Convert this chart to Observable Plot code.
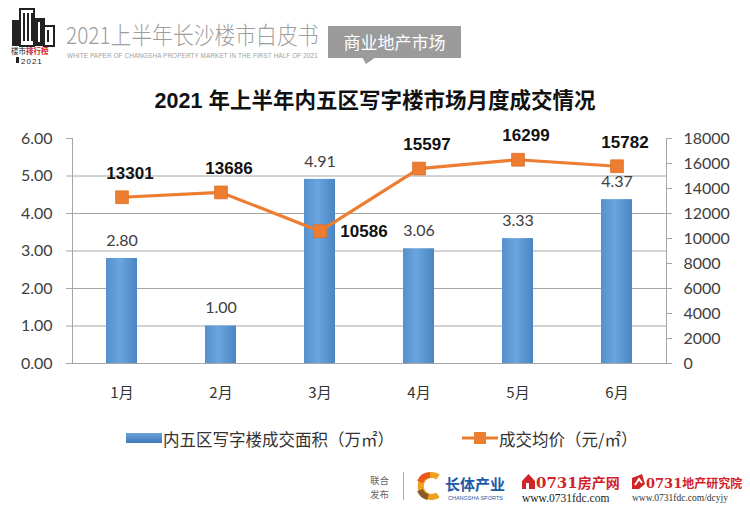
<!DOCTYPE html>
<html>
<head>
<meta charset="utf-8">
<script src="https://cdn.jsdelivr.net/npm/d3@7"></script>
<script src="https://cdn.jsdelivr.net/npm/@observablehq/plot@0.6"></script>
<style>
  html, body { margin: 0; padding: 0; background: #fff; }
  #page { position: relative; width: 750px; height: 512px; overflow: hidden; background: #fff; font-family: "Noto Sans CJK SC", "Noto Sans", sans-serif; }
  .abs { position: absolute; white-space: nowrap; }
  #chart { position: absolute; left: 0; top: 110px; }
</style>
</head>
<body>
<div id="page">
  <!-- header logo -->
  <svg class="abs" style="left:8px;top:6px" width="54" height="58" viewBox="0 0 54 58">
    <rect x="4" y="14" width="9" height="26" fill="#222"/>
    <rect x="12" y="3" width="14" height="37" fill="#fff" stroke="#222" stroke-width="2"/>
    <rect x="15" y="7" width="2" height="28" fill="#222"/>
    <rect x="19" y="7" width="2" height="28" fill="#222"/>
    <rect x="23" y="7" width="2" height="28" fill="#222"/>
    <rect x="27" y="12" width="10" height="28" fill="#222"/>
    <rect x="30" y="16" width="2" height="20" fill="#fff"/>
    <rect x="36" y="20" width="10" height="20" fill="#fff" stroke="#222" stroke-width="2"/>
    <rect x="39" y="24" width="2" height="12" fill="#222"/>
    <text x="3" y="48" font-size="7.5" fill="#222" font-family="Noto Sans CJK SC">楼市<tspan fill="#d0202a" font-weight="bold">排行榜</tspan></text>
    <rect x="8" y="51" width="3" height="6" fill="#222"/>
    <text x="13" y="57.5" font-size="8" fill="#222" font-family="Liberation Sans" letter-spacing="1">2021</text>
  </svg>
  <div class="abs" style="left:66px;top:17px;font-size:23.5px;color:#9d9d9d;font-weight:300;transform:scaleX(0.885);transform-origin:0 0;">2021上半年长沙楼市白皮书</div>
  <div class="abs" style="left:67px;top:52px;font-size:6.4px;color:#a0a0a0;font-family:'Liberation Sans';letter-spacing:0.1px;">WHITE PAPER OF CHANGSHA PROPERTY MARKET IN THE FIRST HALF OF 2021</div>
  <div class="abs" style="left:328px;top:26px;width:133px;height:32px;background:#9b9b9b;color:#fff;font-size:17px;line-height:32px;text-align:center;">商业地产市场</div>
  <svg class="abs" style="left:362px;top:57px" width="16" height="8"><path d="M0,0 L14,0 L4,7 Z" fill="#9b9b9b"/></svg>

  <!-- chart title -->
  <div class="abs" style="left:0;top:83px;width:750px;text-align:center;font-size:21.5px;font-weight:bold;color:#111;">
    <span style="font-family:'Liberation Sans';">2021 </span>年上半年内五区写字楼市场月度成交情况</div>

  <div id="chart"></div>

  <!-- legend -->
  <svg class="abs" style="left:126px;top:432px" width="36" height="12">
    <defs><linearGradient id="legGrad" x1="0" y1="0" x2="0" y2="1"><stop offset="0" stop-color="#6aa3dc"/><stop offset="1" stop-color="#3f78b8"/></linearGradient></defs>
    <rect x="0" y="1" width="36" height="10" fill="url(#legGrad)"/>
  </svg>
  <div class="abs" style="left:163px;top:427px;font-size:16.5px;color:#333;">内五区写字楼成交面积（万㎡）</div>
  <svg class="abs" style="left:462px;top:430px" width="36" height="16">
    <line x1="0" y1="8" x2="36" y2="8" stroke="#ed7d31" stroke-width="3"/>
    <rect x="12" y="2" width="12" height="12" fill="#ed7d31"/>
  </svg>
  <div class="abs" style="left:499px;top:427px;font-size:16.5px;color:#333;">成交均价（元/㎡）</div>

  <!-- footer -->
  <div class="abs" style="left:370px;top:473px;font-size:9.5px;color:#666;line-height:14px;">联合<br>发布</div>
  <div class="abs" style="left:403px;top:472px;width:1px;height:28px;background:#aaa;"></div>
  <svg class="abs" style="left:416px;top:472px" width="28" height="28" viewBox="0 0 28 28">
    <path d="M22,5 A11,11 0 1 0 22,23" fill="none" stroke="#f0a020" stroke-width="6"/>
    <path d="M14,3 A11,11 0 0 0 4,10" fill="none" stroke="#e85a1c" stroke-width="6"/>
    <path d="M4,18 A11,11 0 0 0 12,25" fill="none" stroke="#8a5a2a" stroke-width="6"/>
  </svg>
  <div class="abs" style="left:445px;top:473px;font-size:15px;font-weight:bold;color:#1b5aa6;">长体产业</div>
  <div class="abs" style="left:448px;top:495px;font-size:5.5px;color:#1b5aa6;font-family:'Liberation Sans';">CHANGSHA SPORTS</div>
  <svg class="abs" style="left:521px;top:473px" width="15" height="17"><path d="M1,16 L1,8 L7.5,1 L14,8 L14,16 Z" fill="#d2232a"/><rect x="5" y="10" width="3" height="6" fill="#fff"/></svg>
  <div class="abs" style="left:536px;top:472px;font-size:15px;font-weight:bold;color:#d2232a;font-family:'DejaVu Serif',serif;">0731<span style="font-family:'Noto Sans CJK SC';font-size:14px;">房产网</span></div>
  <div class="abs" style="left:522px;top:492px;font-size:11.5px;color:#222;font-family:'Liberation Serif',serif;">www.0731fdc.com</div>
  <svg class="abs" style="left:631px;top:473px" width="15" height="17"><path d="M1,16 L1,5 L11,1 L14,11 L8,16 Z" fill="#d2232a"/><path d="M4,12 L8,6 L11,10" stroke="#fff" stroke-width="2" fill="none"/></svg>
  <div class="abs" style="left:646px;top:474px;font-size:13px;font-weight:bold;color:#d2232a;font-family:'DejaVu Serif',serif;">0731<span style="font-family:'Noto Sans CJK SC';font-size:12px;">地产研究院</span></div>
  <div class="abs" style="left:632px;top:493px;font-size:9.5px;color:#333;font-family:'Liberation Serif',serif;">www.0731fdc.com/dcyjy</div>
</div>

<script>
// ---- data ----
const months = ["1月", "2月", "3月", "4月", "5月", "6月"];
const area = [2.80, 1.00, 4.91, 3.06, 3.33, 4.37];           // 万㎡ (left axis)
const price = [13301, 13686, 10586, 15597, 16299, 15782];   // 元/㎡ (right axis)
const leftTicks = [0, 1, 2, 3, 4, 5, 6];
const gridTicks = [1, 2, 3, 4, 5];
const rightTicks = [0, 2000, 4000, 6000, 8000, 10000, 12000, 14000, 16000, 18000];
const rightMax = 18000, leftMax = 6;

const ratio = rightMax / leftMax;
const rows = months.map((m, i) => ({month: m, area: area[i], price: price[i]}));
const minPrice = d3.min(price);

const axisColor = "#a6a6a6";
const plot = Plot.plot({
  width: 750,
  height: 300,
  marginLeft: 72,
  marginRight: 84,
  marginTop: 28,
  marginBottom: 47,
  style: {fontFamily: "Lato, 'Open Sans', sans-serif", fontSize: "16px", color: "#404040", background: "transparent", overflow: "visible"},
  x: {type: "band", domain: months, padding: 0, label: null},
  y: {domain: [0, leftMax], label: null},
  marks: [
    Plot.gridY(gridTicks, {stroke: axisColor, strokeOpacity: 1}),
    Plot.frame({anchor: "left", stroke: axisColor}),
    Plot.frame({anchor: "right", stroke: axisColor}),
    Plot.barY(rows, {x: "month", y: "area", fill: "url(#barGrad)", insetLeft: 34, insetRight: 34}),
    Plot.ruleY([0], {stroke: axisColor}),
    Plot.axisY(leftTicks, {anchor: "left", tickSize: 6, tickPadding: 14, stroke: axisColor, tickFormat: d => d.toFixed(2), fill: "#404040"}),
    Plot.axisY(rightTicks.map(v => v / ratio), {anchor: "right", tickSize: 5, tickPadding: 12, stroke: axisColor, tickFormat: d => String(Math.round(d * ratio)), fill: "#404040"}),
    Plot.axisX({tickSize: 0, tickPadding: 24, fontFamily: "'Noto Sans CJK SC', sans-serif", fontSize: 15, fill: "#333"}),
    Plot.text(rows, {x: "month", y: "area", text: d => d.area.toFixed(2), dy: -18, fill: "#404040", fontSize: 16}),
    Plot.line(rows, {x: "month", y: d => d.price / ratio, stroke: "#ed7d31", strokeWidth: 3.2}),
    Plot.dot(rows, {x: "month", y: d => d.price / ratio, symbol: "square", r: 7.2, fill: "#ed7d31", stroke: "#e06d20", strokeWidth: 0.8}),
    Plot.text(rows.filter(d => d.price !== minPrice), {x: "month", y: d => d.price / ratio, text: d => String(d.price), dy: -24, dx: 8, fontWeight: "bold", fontSize: 17, fontFamily: "'Liberation Sans', Arial, sans-serif", fill: "#111"}),
    Plot.text(rows.filter(d => d.price === minPrice), {x: "month", y: d => d.price / ratio, text: d => String(d.price), dx: 44, fontWeight: "bold", fontSize: 17, fontFamily: "'Liberation Sans', Arial, sans-serif", fill: "#111"})
  ]
});

// bar gradient definition
const ns = "http://www.w3.org/2000/svg";
const defs = document.createElementNS(ns, "defs");
const grad = document.createElementNS(ns, "linearGradient");
grad.setAttribute("id", "barGrad");
grad.setAttribute("x1", "0"); grad.setAttribute("y1", "0");
grad.setAttribute("x2", "1"); grad.setAttribute("y2", "0");
[["0", "#5590cf"], ["0.45", "#6ba5de"], ["1", "#4a84c4"]].forEach(([o, c]) => {
  const s = document.createElementNS(ns, "stop");
  s.setAttribute("offset", o); s.setAttribute("stop-color", c);
  grad.appendChild(s);
});
defs.appendChild(grad);
plot.insertBefore(defs, plot.firstChild);

document.getElementById("chart").appendChild(plot);
</script>
</body>
</html>
